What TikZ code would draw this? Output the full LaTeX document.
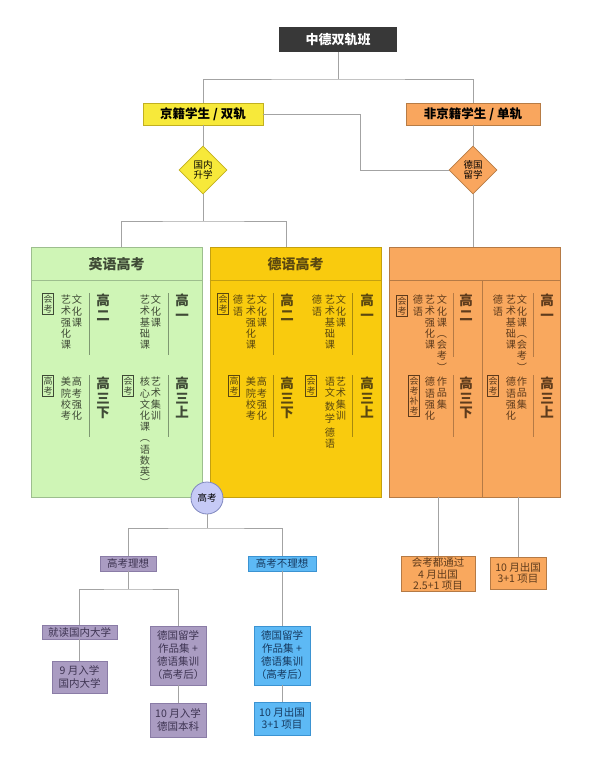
\documentclass[tikz,border=0pt]{standalone}
\usepackage{fontspec}
\setmainfont{Noto Sans CJK SC}
\usetikzlibrary{shapes.geometric,positioning,calc}

\definecolor{titlegray}{HTML}{383838}
\definecolor{linegray}{HTML}{A3A3A3}
\definecolor{jingfill}{HTML}{F7E93A}
\definecolor{jingline}{HTML}{C2B020}
\definecolor{feifill}{HTML}{F9A65E}
\definecolor{feiline}{HTML}{B77C45}
\definecolor{engfill}{HTML}{CFF5B6}
\definecolor{engline}{HTML}{9DBE8E}
\definecolor{engtext}{HTML}{3F4A36}
\definecolor{gerfill}{HTML}{F9CB0E}
\definecolor{gerline}{HTML}{C4A010}
\definecolor{gertext}{HTML}{5B4810}
\definecolor{orfill}{HTML}{F9A85E}
\definecolor{orline}{HTML}{B57A45}
\definecolor{ortext}{HTML}{5E3B1C}
\definecolor{gkfill}{HTML}{C6CAF6}
\definecolor{gkline}{HTML}{7F87BE}
\definecolor{purfill}{HTML}{AA9CC2}
\definecolor{purline}{HTML}{8A7CA6}
\definecolor{purtext}{HTML}{3E3452}
\definecolor{bluefill}{HTML}{5DB9F5}
\definecolor{blueline}{HTML}{3B93D2}
\definecolor{bluetext}{HTML}{163A60}

% stack the characters of a word one under another
\def\vtend{}
\def\vtstep#1#2{#1\ifx#2\vtend\else\\\expandafter\vtstep\expandafter#2\fi}
\newcommand{\vt}[1]{\expandafter\vtstep#1\vtend}

\begin{document}
\begin{tikzpicture}[x=1pt,y=-1pt, font=\fontsize{10}{11}\selectfont,
  link/.style={draw=linegray, line width=0.8pt},
  bigbox/.style={rectangle, minimum width=171, minimum height=250, line width=0.8pt},
  headtxt/.style={font=\fontsize{14}{16}\selectfont\bfseries},
  grade/.style={anchor=north, align=center, inner sep=0pt, font=\fontsize{13.5}{14.5}\selectfont\bfseries},
  vcol/.style={anchor=north, align=center, inner sep=0pt, font=\fontsize{10.2}{11.2}\selectfont},
  tagbox/.style={draw, anchor=north, align=center, inner sep=1.2pt, line width=0.5pt, font=\fontsize{9}{10}\selectfont},
  sepline/.style={line width=0.7pt},
  leaf/.style={rectangle, draw, align=center, inner sep=1pt, line width=0.6pt, font=\fontsize{10.5}{13}\selectfont},
]
\useasboundingbox (0,0) rectangle (590,761);

% top levels
\node[fill=titlegray, text=white, font=\fontsize{13}{14}\selectfont\bfseries,
  minimum width=118, minimum height=25, inner sep=0pt] (title) at (338,39.5) {中德双轨班};
\node[fill=jingfill, draw=jingline, line width=0.8pt, font=\fontsize{12.5}{14}\selectfont\bfseries,
  minimum width=120, minimum height=22, inner sep=0pt] (jing) at (203,114) {京籍学生 / 双轨};
\node[fill=feifill, draw=feiline, line width=0.8pt, font=\fontsize{12.5}{14}\selectfont\bfseries,
  minimum width=134, minimum height=22, inner sep=0pt] (feijing) at (473,114) {非京籍学生 / 单轨};
\node[diamond, fill=jingfill, draw=jingline, line width=0.6pt, align=center, inner sep=0pt,
  minimum width=48, minimum height=48, font=\fontsize{9.5}{10.5}\selectfont] (guonei) at (203,170) {国内\\升学};
\node[diamond, fill=feifill, draw=feiline, line width=0.6pt, align=center, inner sep=0pt,
  minimum width=48, minimum height=48, font=\fontsize{9.5}{10.5}\selectfont] (deguo) at (473,170) {德国\\留学};

% three big boxes
\node[bigbox, fill=engfill, draw=engline] (engbox) at (116.5,372) {};
\node[bigbox, fill=gerfill, draw=gerline] (gerbox) at (295.5,372) {};
\node[bigbox, fill=orfill, draw=orline] (orbox) at (474.5,372) {};
\draw[engline, line width=0.8pt] ([yshift=-34pt]engbox.north west) -- ([yshift=-34pt]engbox.north east);
\draw[gerline, line width=0.8pt] ([yshift=-34pt]gerbox.north west) -- ([yshift=-34pt]gerbox.north east);
\draw[orline, line width=0.8pt] ([yshift=-34pt]orbox.north west) -- ([yshift=-34pt]orbox.north east);
\draw[orline, line width=0.8pt] (482,281) -- (482,497);
\node[headtxt, text=engtext] (enghead) at (116.5,264) {英语高考};
\node[headtxt, text=gertext] (gerhead) at (295.5,264) {德语高考};

% English box
\begin{scope}[text=engtext]
\foreach \x/\y/\txt [count=\i] in {182/294/高一, 103/294/高二, 182/377/高三上, 103/377/高三下}
  \node[grade] (eg\i) at (\x,\y) {\vt{\txt}};
\foreach \x/\y/\txt [count=\i] in {156/295/文化课, 145/295/艺术基础课, 77/295/文化课, 66/295/艺术强化课,
    156/377/艺术集训, 145/377/核心文化课︵语数英︶, 77/377/高考强化, 66/377/美院校考}
  \node[vcol] (ec\i) at (\x,\y) {\vt{\txt}};
\foreach \x/\y/\txt [count=\i] in {48/293/会考, 128/375/会考, 48/375/高考}
  \node[tagbox, draw=engtext] (et\i) at (\x,\y) {\vt{\txt}};
\end{scope}
\foreach \x/\y in {168/293, 89/293, 168/375, 89/375}
  \draw[sepline, engline!80!black] (\x,\y) -- ++(0,62);

% German box
\begin{scope}[text=gertext]
\foreach \x/\y/\txt [count=\i] in {367/294/高一, 287/294/高二, 367/377/高三上, 287/377/高三下}
  \node[grade] (dg\i) at (\x,\y) {\vt{\txt}};
\foreach \x/\y/\txt [count=\i] in {341/295/文化课, 330/295/艺术基础课, 317/295/德语,
    262/295/文化课, 251/295/艺术强化课, 238/295/德语,
    341/377/艺术集训, 262/377/高考强化, 251/377/美院校考}
  \node[vcol] (dc\i) at (\x,\y) {\vt{\txt}};
\node[vcol] (dc10) at (330,377) {语\\文\\[3pt]数\\学\\[3pt]德\\语};
\foreach \x/\y/\txt [count=\i] in {223/293/会考, 311/375/会考, 234/375/高考}
  \node[tagbox, draw=gertext] (dt\i) at (\x,\y) {\vt{\txt}};
\end{scope}
\foreach \x/\y in {352/293, 273/293, 352/375, 273/375}
  \draw[sepline, gerline!85!black] (\x,\y) -- ++(0,62);

% orange box
\begin{scope}[text=ortext]
\foreach \x/\y/\txt [count=\i] in {547/294/高一, 466/294/高二, 547/377/高三上, 466/377/高三下}
  \node[grade] (og\i) at (\x,\y) {\vt{\txt}};
\foreach \x/\y/\txt [count=\i] in {522/295/文化课︵会考︶, 511/295/艺术基础课, 498/295/德语,
    442/295/文化课︵会考︶, 430/295/艺术强化课, 418/295/德语,
    522/377/作品集, 511/377/德语强化, 442/377/作品集, 430/377/德语强化}
  \node[vcol] (oc\i) at (\x,\y) {\vt{\txt}};
\foreach \x/\y/\txt [count=\i] in {402/295/会考, 493/375/会考, 414/375/会考补考}
  \node[tagbox, draw=ortext] (ot\i) at (\x,\y) {\vt{\txt}};
\end{scope}
\foreach \x/\y/\l in {533/293/64, 453/293/64, 533/375/62, 453/375/62}
  \draw[sepline, orline] (\x,\y) -- ++(0,\l);

% gaokao and the outcomes
\node[circle, fill=gkfill, draw=gkline, line width=0.8pt, minimum size=32, inner sep=0pt,
  font=\fontsize{9.5}{10}\selectfont] (gk) at (207,498) {高考};
\node[leaf, fill=purfill, draw=purline, text=purtext, minimum width=56, minimum height=15] (ideal) at (128,563.5) {高考理想};
\node[leaf, fill=bluefill, draw=blueline, text=bluetext, minimum width=68, minimum height=15] (nideal) at (282,563.5) {高考不理想};
\node[leaf, fill=purfill, draw=purline, text=purtext, minimum width=75, minimum height=14] (jiudu) at (79.5,632) {就读国内大学};
\node[leaf, fill=purfill, draw=purline, text=purtext, minimum width=55, minimum height=32] (jiuyue) at (79.5,677) {9 月入学\\国内大学};
\node[leaf, fill=purfill, draw=purline, text=purtext, minimum width=56, minimum height=59] (dgxa) at (178,655.5) {德国留学\\作品集 +\\德语集训\\（高考后）};
\node[leaf, fill=purfill, draw=purline, text=purtext, minimum width=56, minimum height=34] (shiyue) at (178,720) {10 月入学\\德国本科};
\node[leaf, fill=bluefill, draw=blueline, text=bluetext, minimum width=56, minimum height=59] (dgxb) at (282,655.5) {德国留学\\作品集 +\\德语集训\\（高考后）};
\node[leaf, fill=bluefill, draw=blueline, text=bluetext, minimum width=56, minimum height=33] (shiyueb) at (282,718.5) {10 月出国\\3+1 项目};
\node[leaf, fill=orfill, draw=orline, text=ortext, minimum width=74, minimum height=34,
  font=\fontsize{10.5}{11.5}\selectfont] (huikao) at (438,574) {会考都通过\\4 月出国\\2.5+1 项目};
\node[leaf, fill=orfill, draw=orline, text=ortext, minimum width=56, minimum height=32,
  font=\fontsize{10.5}{11.5}\selectfont] (shiyuec) at (518,573) {10 月出国\\3+1 项目};

% connectors
\coordinate (split1) at (338,79);
\coordinate (jbend) at (360,170);
\coordinate (split2) at (203,221);
\coordinate (split3) at (207,528);
\coordinate (split4) at (128,589);
\draw[link] (title) -- (split1);
\draw[link] (jing.north) |- (split1) -| (feijing.north);
\draw[link] (jing.east) -| (jbend) -- (deguo.west);
\draw[link] (jing) -- (guonei);
\draw[link] (feijing) -- (deguo);
\draw[link] (guonei.south) -- (split2);
\draw[link] ([xshift=4.5pt]engbox.north) |- (split2) -| ([xshift=-9.5pt]gerbox.north);
\draw[link] (deguo.south) -- (deguo.south |- orbox.north);
\draw[link] (gk.south) -- (split3);
\draw[link] (ideal.north) |- (split3) -| (nideal.north);
\draw[link] (ideal.south) -- (split4);
\draw[link] (jiudu.north) |- (split4) -| (dgxa.north);
\draw[link] (jiudu) -- (jiuyue);
\draw[link] (dgxa) -- (shiyue);
\draw[link] (nideal) -- (dgxb);
\draw[link] (dgxb) -- (shiyueb);
\draw[link] (huikao.north |- orbox.south) -- (huikao.north);
\draw[link] (shiyuec.north |- orbox.south) -- (shiyuec.north);
\end{tikzpicture}
\end{document}
